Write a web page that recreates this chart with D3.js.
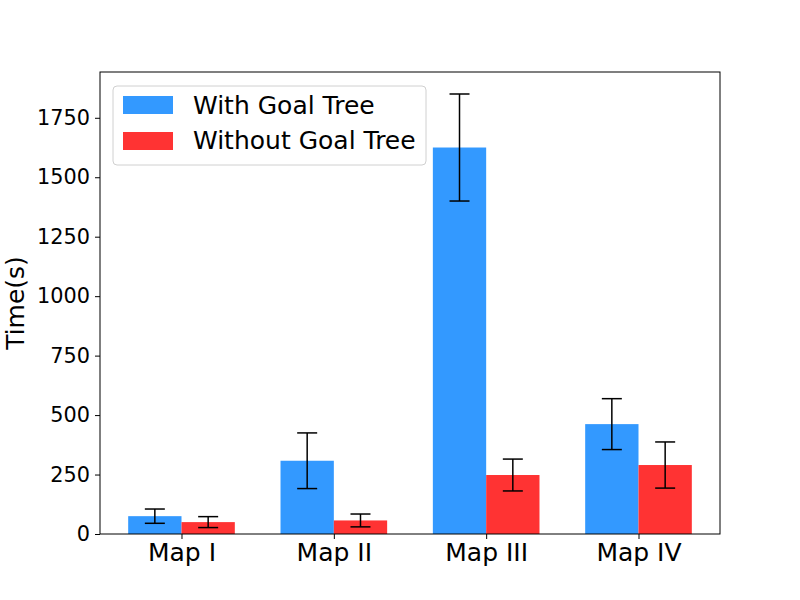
<!DOCTYPE html>
<html>
<head>
<meta charset="utf-8">
<script src="https://cdn.jsdelivr.net/npm/d3@7"></script>
<style>
  body { margin: 0; background: #fff; }
  svg { font-family: "DejaVu Sans", sans-serif; }
</style>
</head>
<body>
<div id="chart"></div>
<script>
// chart data
const maps = ["Map I", "Map II", "Map III", "Map IV"];
const withTree = [75, 308, 1625, 462];
const withTreeErr = [30, 117, 225, 107];
const withoutTree = [50, 57, 248, 290];
const withoutTreeErr = [23, 27, 67, 97];
const yTicks = [0, 250, 500, 750, 1000, 1250, 1500, 1750];
const seriesNames = ["With Goal Tree", "Without Goal Tree"];
const colors = ["#3399ff", "#ff3333"];

const W = 800, H = 600;
const margin = {top: 72, right: 80, bottom: 66, left: 100};
const barW = 0.35;

const svg = d3.select("#chart").append("svg")
  .attr("width", W).attr("height", H);

// matplotlib style x range: bars span [-0.35, 3.35] with 5% padding
const xMin = -barW, xMax = maps.length - 1 + barW;
const pad = (xMax - xMin) * 0.05;
const x = d3.scaleLinear()
  .domain([xMin - pad, xMax + pad])
  .range([margin.left, W - margin.right]);

const yTop = d3.max(withTree.map((v, i) => v + withTreeErr[i])) * 1.05;
const y = d3.scaleLinear()
  .domain([0, yTop])
  .range([H - margin.bottom, margin.top]);

const series = [
  {vals: withTree, errs: withTreeErr, off: -barW / 2},
  {vals: withoutTree, errs: withoutTreeErr, off: barW / 2}
];

const g = svg.append("g");
series.forEach(function(s, si) {
  const pts = s.vals.map((v, i) => ({i: i, v: v, e: s.errs[i]}));
  g.selectAll("rect.s" + si).data(pts).enter().append("rect")
    .attr("class", "s" + si)
    .attr("x", d => x(d.i + s.off - barW / 2))
    .attr("width", d => x(d.i + s.off + barW / 2) - x(d.i + s.off - barW / 2))
    .attr("y", d => y(d.v))
    .attr("height", d => y(0) - y(d.v))
    .attr("fill", colors[si]);
});

// error bars on top of both series
series.forEach(function(s, si) {
  const pts = s.vals.map((v, i) => ({i: i, v: v, e: s.errs[i]}));
  const eg = g.selectAll("g.err" + si).data(pts).enter().append("g")
    .attr("class", "err" + si)
    .attr("stroke", "#000").attr("stroke-width", 1.5);
  eg.append("line")
    .attr("x1", d => x(d.i + s.off)).attr("x2", d => x(d.i + s.off))
    .attr("y1", d => y(d.v - d.e)).attr("y2", d => y(d.v + d.e));
  [-1, 1].forEach(function(sign) {
    eg.append("line")
      .attr("x1", d => x(d.i + s.off) - 10).attr("x2", d => x(d.i + s.off) + 10)
      .attr("y1", d => y(d.v + sign * d.e)).attr("y2", d => y(d.v + sign * d.e));
  });
});

// axes
const xAxis = d3.axisBottom(x)
  .tickValues(d3.range(maps.length))
  .tickFormat(i => maps[i])
  .tickSizeOuter(0).tickSize(5).tickPadding(4);
const yAxis = d3.axisLeft(y)
  .tickValues(yTicks)
  .tickFormat(d3.format("d"))
  .tickSizeOuter(0).tickSize(5).tickPadding(5);

const xg = svg.append("g")
  .attr("transform", "translate(0," + (H - margin.bottom) + ")")
  .call(xAxis);
xg.select(".domain").remove();
xg.selectAll("text")
  .style("font-size", "25px").style("font-family", "DejaVu Sans").attr("fill", "#000");
xg.selectAll("line").attr("stroke", "#000");

const yg = svg.append("g")
  .attr("transform", "translate(" + margin.left + ",0)")
  .call(yAxis);
yg.select(".domain").remove();
yg.selectAll("text")
  .style("font-size", "20.8px").style("font-family", "DejaVu Sans").attr("fill", "#000");
yg.selectAll("line").attr("stroke", "#000");

// frame
svg.append("rect")
  .attr("x", margin.left).attr("y", margin.top)
  .attr("width", W - margin.left - margin.right)
  .attr("height", H - margin.top - margin.bottom)
  .attr("fill", "none").attr("stroke", "#000").attr("stroke-width", 1);

// y label
svg.append("text")
  .attr("transform", "translate(24," + (margin.top + (H - margin.top - margin.bottom) / 2) + ") rotate(-90)")
  .attr("text-anchor", "middle")
  .style("font-size", "25px")
  .text("Time(s)");

// legend
const lg = svg.append("g").attr("transform", "translate(113,86)");
lg.append("rect")
  .attr("width", 313).attr("height", 79).attr("rx", 4)
  .attr("fill", "#fff").attr("fill-opacity", 0.8)
  .attr("stroke", "#d0d0d0");
seriesNames.forEach(function(name, i) {
  lg.append("rect")
    .attr("x", 10).attr("y", 10 + i * 36)
    .attr("width", 50).attr("height", 18)
    .attr("fill", colors[i]);
  lg.append("text")
    .attr("x", 80).attr("y", 28 + i * 35)
    .style("font-size", "25px")
    .text(name);
});
</script>
</body>
</html>
